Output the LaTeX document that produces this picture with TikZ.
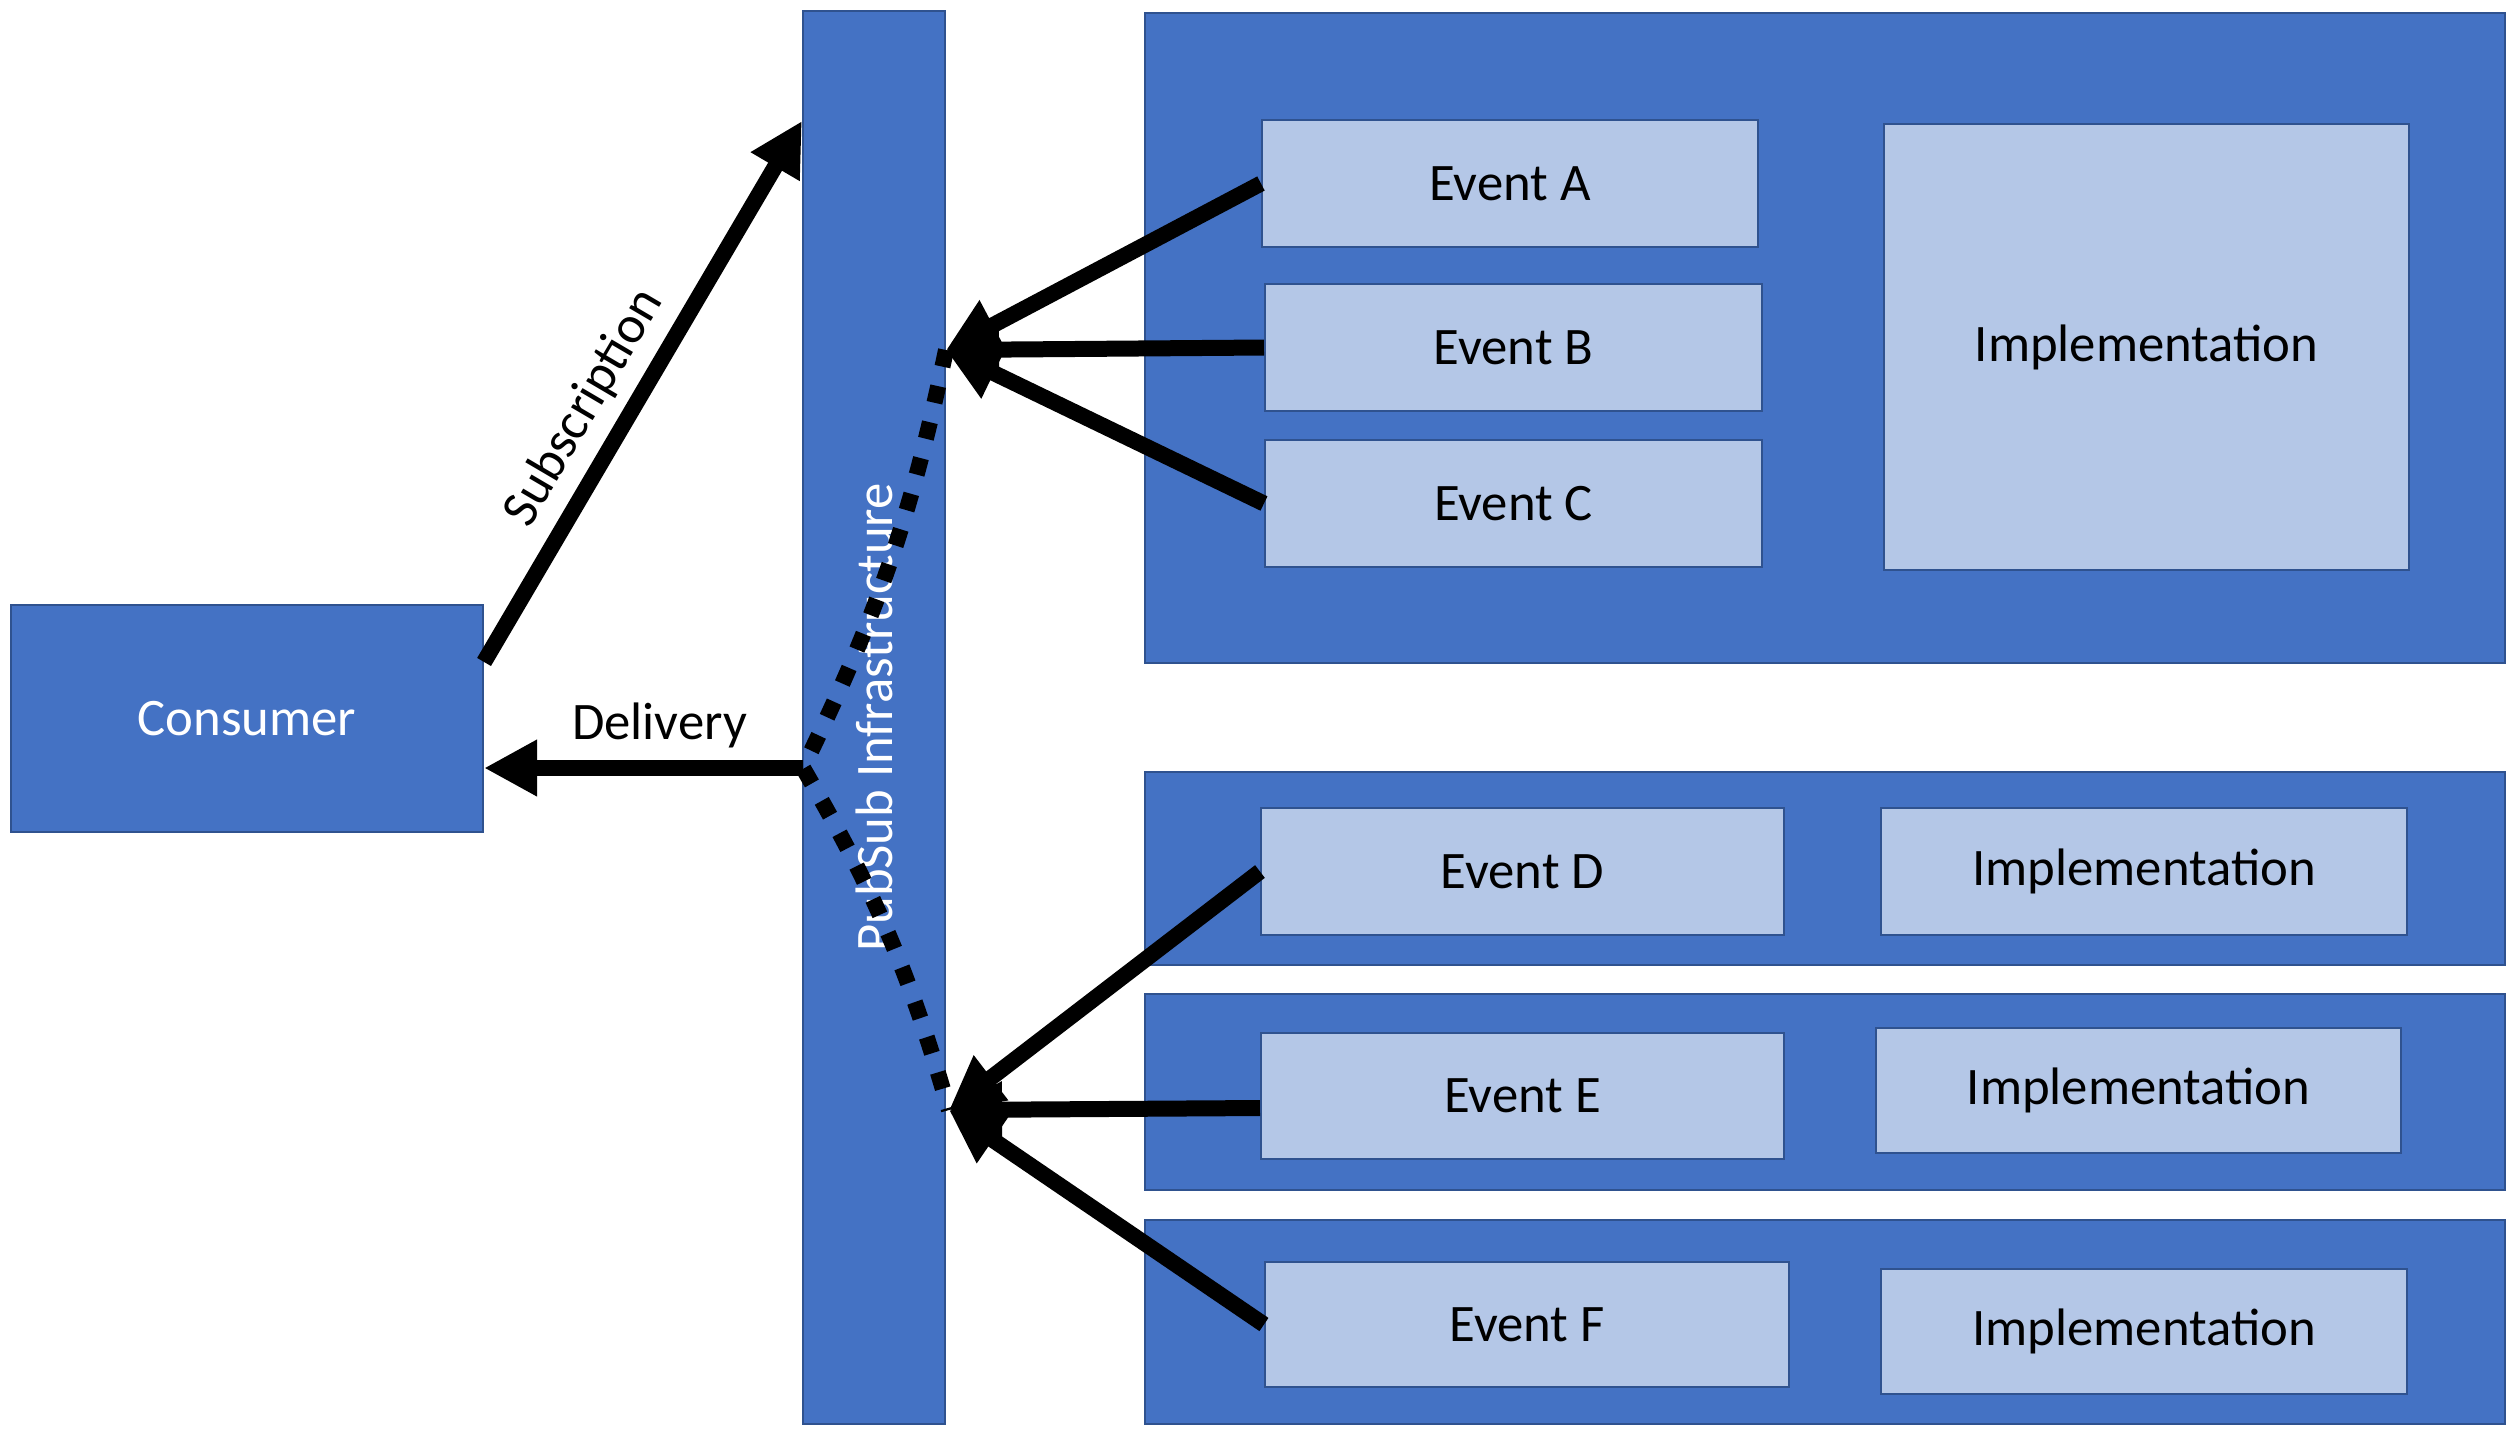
\documentclass[tikz,border=0pt]{standalone}
\usepackage{fontspec}
\setmainfont{Carlito}
\usepackage{tikz}
\usetikzlibrary{arrows.meta, calc}
\definecolor{psBlue}{HTML}{4472C4}
\definecolor{psEdge}{HTML}{2F528F}
\definecolor{psLight}{HTML}{B4C7E7}

\begin{document}
\begin{tikzpicture}[
  font=\fontsize{15}{18}\selectfont,
  box/.style={draw=psEdge, line width=0.6pt, fill=psBlue, inner sep=0pt, align=center, text=white},
  group/.style={box, minimum width=13.6cm},
  evt/.style={box, fill=psLight, text=black, minimum height=1.27cm},
  flow/.style={-{Triangle[length=5.3mm, width=5.3mm]}, line width=1.6mm},
  dotline/.style={line width=1.6mm, dash pattern=on 1.7mm off 2mm},
]
  \useasboundingbox (0,0) rectangle (25.18,-14.34);

  % consumer and bus
  \node[box, minimum width=4.72cm, minimum height=2.27cm] (cons) at (2.47,-7.185) {Consumer};
  \node[box, minimum width=1.42cm, minimum height=14.13cm] (bar) at (8.74,-7.175) {};
  \node[rotate=90, text=white] (barlbl) at (bar.center) {PubSub Infrastructure};

  % upper service
  \node[group, minimum height=6.5cm] (grpA) at (18.25,-3.38) {};
  \node[evt, minimum width=4.96cm] (evA) at (15.10,-1.835) {Event A};
  \node[evt, minimum width=4.97cm] (evB) at (15.135,-3.475) {Event B};
  \node[evt, minimum width=4.97cm] (evC) at (15.135,-5.035) {Event C};
  \node[evt, minimum width=5.25cm, minimum height=4.46cm] (implA) at (21.465,-3.47) {Implementation};

  % lower services
  \node[group, minimum height=1.93cm] (grpD) at (18.25,-8.685) {};
  \node[evt, minimum width=5.23cm] (evD) at (15.225,-8.715) {Event D};
  \node[evt, minimum width=5.26cm] (implD) at (21.44,-8.715) {Implementation};
  \node[group, minimum height=1.96cm] (grpE) at (18.25,-10.92) {};
  \node[evt, minimum width=5.23cm, minimum height=1.26cm] (evE) at (15.225,-10.96) {Event E};
  \node[evt, minimum width=5.25cm, minimum height=1.25cm] (implE) at (21.385,-10.905) {Implementation};
  \node[group, minimum height=2.04cm] (grpF) at (18.25,-13.22) {};
  \node[evt, minimum width=5.24cm, minimum height=1.25cm] (evF) at (15.27,-13.245) {Event F};
  \node[evt, minimum width=5.26cm, minimum height=1.25cm] (implF) at (21.44,-13.315) {Implementation};

  % meeting points
  \coordinate (upTip) at (9.46,-3.50);
  \coordinate (lowTip) at (9.49,-11.10);
  \coordinate (dlv) at (8.03,-7.68);
  \coordinate (subStart) at ($(cons.north east)+(0,-0.58)$);
  \coordinate (subEnd) at ($(bar.north west)+(0,-1.11)$);

  \draw[dotline] (upTip) to[bend left=7] (dlv) to[bend left=7] (lowTip);
  \draw[flow] (subStart) -- node[sloped, above, pos=0.43] (sublbl) {Subscription} (subEnd);
  \draw[flow] (dlv) -- node[above, pos=0.45] (dlvlbl) {Delivery} (dlv -| cons.east);
  \foreach \e in {evA, evB, evC} \draw[flow] (\e.west) -- (upTip);
  \draw[flow] (evD.west) -- (lowTip);
  \draw[flow] ([yshift=-1.2mm]evE.west) -- (lowTip);
  \draw[flow] (evF.west) -- (lowTip);
\end{tikzpicture}
\end{document}
